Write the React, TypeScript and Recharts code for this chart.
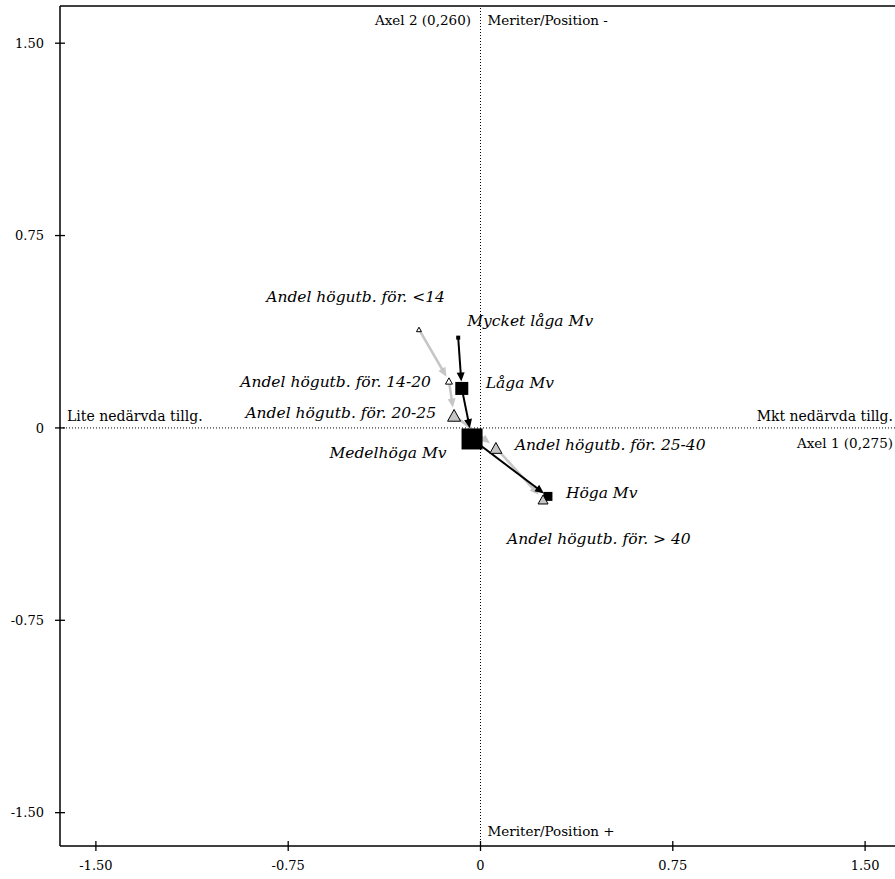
import React from 'react';
import { ScatterChart, Scatter, XAxis, YAxis, ReferenceLine } from 'recharts';

// ---------- data ----------
const eduLabels = [
  'Andel högutb. för. <14',
  'Andel högutb. för. 14-20',
  'Andel högutb. för. 20-25',
  'Andel högutb. för. 25-40',
  'Andel högutb. för. > 40',
];
const eduX = [-0.240, -0.123, -0.103, 0.060, 0.244];
const eduY = [0.384, 0.183, 0.049, -0.078, -0.279];

const mvLabels = ['Mycket låga Mv', 'Låga Mv', 'Medelhöga Mv', 'Höga Mv'];
const mvX = [-0.087, -0.073, -0.033, 0.263];
const mvY = [0.352, 0.154, -0.043, -0.267];

const axisTicks = [-1.5, -0.75, 0, 0.75, 1.5];
const xDomain = [-1.64, 1.64];
const yDomain = [-1.63, 1.645];

const axis1Title = 'Axel 1 (0,275)';
const axis2Title = 'Axel 2 (0,260)';
const leftPole = 'Lite nedärvda tillg.';
const rightPole = 'Mkt nedärvda tillg.';
const topPole = 'Meriter/Position -';
const bottomPole = 'Meriter/Position +';

// ---------- styles ----------
const FONT = "'DejaVu Serif', serif";
const GREY = '#c6c6c6';
const eduSize = [5, 7, 13, 12, 10];
const eduFill = ['#ffffff', '#ffffff', GREY, GREY, GREY];
const eduLabelOffset: [number, number, string][] = [
  [26, -27, 'end'],
  [-18, 6.5, 'end'],
  [-18, 3, 'end'],
  [19, 2.5, 'start'],
  [-36, 45, 'start'],
];
const mvSize = [4, 13, 21, 9];
const mvLabelOffset: [number, number, string][] = [
  [9, -12, 'start'],
  [24, 0, 'start'],
  [-25.5, 19.5, 'end'],
  [18, 2, 'start'],
];

const eduData = eduLabels.map((name, i) => ({ i, name, x: eduX[i], y: eduY[i] }));
const mvData = mvLabels.map((name, i) => ({ i, name, x: mvX[i], y: mvY[i] }));

const fmt = (v: number) => (v === 0 ? '0' : v.toFixed(2));

const XTick = (p: any) => {
  const { x, y, payload } = p;
  return (
    <g>
      <line x1={x} y1={y - 5} x2={x} y2={y + 5} stroke="#000" strokeWidth={1.3} />
      <text x={x} y={y + 24} textAnchor="middle" fontFamily={FONT} fontSize={13} fill="#000">
        {fmt(payload.value)}
      </text>
    </g>
  );
};

const YTick = (p: any) => {
  const { x, y, payload } = p;
  return (
    <g>
      <line x1={x - 5} y1={y} x2={x + 5} y2={y} stroke="#000" strokeWidth={1.3} />
      <text x={x - 16} y={y + 4.7} textAnchor="end" fontFamily={FONT} fontSize={13} fill="#000">
        {fmt(payload.value)}
      </text>
    </g>
  );
};

const PointLabel = ({ x, y, text, anchor }: any) => (
  <text x={x} y={y} textAnchor={anchor} fontFamily={FONT} fontStyle="italic" fontSize={15.5} fill="#000">
    {text}
  </text>
);

const EduShape = (props: any) => {
  const { cx, cy, payload } = props;
  const i = payload.i;
  const s = eduSize[i];
  const h = s * 0.9;
  const [dx, dy, anchor] = eduLabelOffset[i];
  return (
    <g>
      <polygon
        points={`${cx},${cy - h / 2} ${cx - s / 2},${cy + h / 2} ${cx + s / 2},${cy + h / 2}`}
        fill={eduFill[i]}
        stroke="#000"
        strokeWidth={1}
      />
      <PointLabel x={cx + dx} y={cy + dy} text={payload.name} anchor={anchor} />
    </g>
  );
};

const MvShape = (props: any) => {
  const { cx, cy, payload } = props;
  const i = payload.i;
  const s = mvSize[i];
  const [dx, dy, anchor] = mvLabelOffset[i];
  return (
    <g>
      <rect x={cx - s / 2} y={cy - s / 2} width={s} height={s} fill="#000" />
      <PointLabel x={cx + dx} y={cy + dy} text={payload.name} anchor={anchor} />
    </g>
  );
};

const makeArrow = (color: string, width: number, gap: number) => (p: any) => {
  const x1 = Number(p.x1), y1 = Number(p.y1), x2 = Number(p.x2), y2 = Number(p.y2);
  const dx = x2 - x1, dy = y2 - y1;
  const len = Math.hypot(dx, dy) || 1;
  const ux = dx / len, uy = dy / len;
  const tx = x2 - ux * gap, ty = y2 - uy * gap;
  const hl = 9, hw = 4;
  const bx = tx - ux * hl, by = ty - uy * hl;
  const px = -uy, py = ux;
  return (
    <g>
      <line x1={x1} y1={y1} x2={bx + ux * 1} y2={by + uy * 1} stroke={color} strokeWidth={width} />
      <polygon
        points={`${tx},${ty} ${bx + px * hw},${by + py * hw} ${bx - px * hw},${by - py * hw}`}
        fill={color}
      />
    </g>
  );
};

const VLabel = ({ viewBox, text, pos }: any) => {
  const { x, y, height } = viewBox;
  if (pos === 'topLeft')
    return <text x={x - 9.5} y={y + 19} textAnchor="end" fontFamily={FONT} fontSize={13.5}>{text}</text>;
  if (pos === 'topRight')
    return <text x={x + 7} y={y + 19} textAnchor="start" fontFamily={FONT} fontSize={13.5}>{text}</text>;
  return <text x={x + 7} y={y + height - 10.5} textAnchor="start" fontFamily={FONT} fontSize={13.5}>{text}</text>;
};

const HLabel = ({ viewBox, text, pos }: any) => {
  const { x, y, width } = viewBox;
  if (pos === 'left')
    return <text x={x + 7} y={y - 6.5} textAnchor="start" fontFamily={FONT} fontSize={14}>{text}</text>;
  if (pos === 'right')
    return <text x={x + width - 8} y={y - 6.5} textAnchor="end" fontFamily={FONT} fontSize={14}>{text}</text>;
  return <text x={x + width - 8} y={y + 20.5} textAnchor="end" fontFamily={FONT} fontSize={13.5}>{text}</text>;
};

export default function App() {
  const eduSegs = eduData.slice(1).map((d, k) => ({ a: eduData[k], b: d }));
  const mvSegs = mvData.slice(1).map((d, k) => ({ a: mvData[k], b: d }));
  return (
    <div
      style={{
        position: 'fixed',
        left: 0,
        top: 0,
        width: 895,
        height: 879,
        overflow: 'hidden',
        background: '#fff',
      }}
    >
      <ScatterChart width={910} height={879} margin={{ top: 6, right: 9, bottom: 0, left: 0 }}>
        <XAxis
          type="number"
          dataKey="x"
          domain={xDomain}
          ticks={axisTicks}
          allowDataOverflow
          height={33}
          tickSize={0}
          tickMargin={0}
          tickLine={false}
          axisLine={{ stroke: '#000', strokeWidth: 1.5 }}
          tick={<XTick />}
        />
        <YAxis
          type="number"
          dataKey="y"
          domain={yDomain}
          ticks={axisTicks}
          allowDataOverflow
          width={60}
          tickSize={0}
          tickMargin={0}
          tickLine={false}
          axisLine={{ stroke: '#000', strokeWidth: 1.5 }}
          tick={<YTick />}
        />
        <ReferenceLine y={yDomain[1]} stroke="#000" strokeWidth={1.5} />
        <ReferenceLine x={xDomain[1]} stroke="#000" strokeWidth={1.5} />
        <ReferenceLine
          x={0}
          stroke="#000"
          strokeWidth={1}
          strokeDasharray="1 2"
          label={<VLabel text={axis2Title} pos="topLeft" />}
        />
        <ReferenceLine
          x={0}
          stroke="none"
          label={<VLabel text={topPole} pos="topRight" />}
        />
        <ReferenceLine
          x={0}
          stroke="none"
          label={<VLabel text={bottomPole} pos="bottom" />}
        />
        <ReferenceLine
          y={0}
          stroke="#000"
          strokeWidth={1}
          strokeDasharray="1 2"
          label={<HLabel text={leftPole} pos="left" />}
        />
        <ReferenceLine y={0} stroke="none" label={<HLabel text={rightPole} pos="right" />} />
        <ReferenceLine y={0} stroke="none" label={<HLabel text={axis1Title} pos="below" />} />
        {eduSegs.map((s, k) => (
          <ReferenceLine
            key={'e' + k}
            segment={[{ x: s.a.x, y: s.a.y }, { x: s.b.x, y: s.b.y }]}
            shape={makeArrow(GREY, 2.5, eduSize[s.b.i] / 2 + 1.5)}
          />
        ))}
        {mvSegs.map((s, k) => (
          <ReferenceLine
            key={'m' + k}
            segment={[{ x: s.a.x, y: s.a.y }, { x: s.b.x, y: s.b.y }]}
            shape={makeArrow('#000', 2, mvSize[s.b.i] / 2 + 0.5)}
          />
        ))}
        <Scatter data={mvData} shape={<MvShape />} isAnimationActive={false} />
        <Scatter data={eduData} shape={<EduShape />} isAnimationActive={false} />
      </ScatterChart>
    </div>
  );
}
